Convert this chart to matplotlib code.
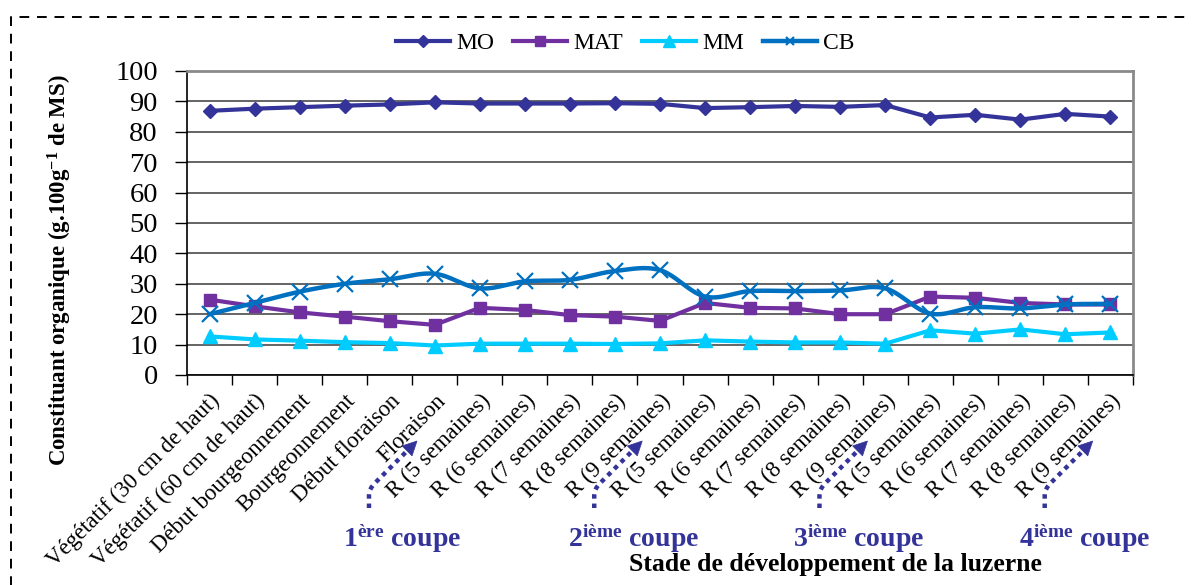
import numpy as np
import matplotlib
matplotlib.use("Agg")
import matplotlib.pyplot as plt
from matplotlib.lines import Line2D
from matplotlib.path import Path
from matplotlib.patches import PathPatch, Polygon

plt.rcParams['font.family'] = ['Liberation Serif', 'DejaVu Serif']
plt.rcParams['mathtext.fontset'] = 'custom'
plt.rcParams['mathtext.rm'] = 'Liberation Serif'
plt.rcParams['mathtext.bf'] = 'Liberation Serif:bold'
plt.rcParams['mathtext.it'] = 'Liberation Serif:italic'

# Development stages of lucerne (alfalfa)
stages = [
    "Végétatif (30 cm de haut)", "Végétatif (60 cm de haut)",
    "Début bourgeonnement", "Bourgeonnement", "Début floraison", "Floraison",
    "R (5 semaines)", "R (6 semaines)", "R (7 semaines)", "R (8 semaines)", "R (9 semaines)",
    "R (5 semaines)", "R (6 semaines)", "R (7 semaines)", "R (8 semaines)", "R (9 semaines)",
    "R (5 semaines)", "R (6 semaines)", "R (7 semaines)", "R (8 semaines)", "R (9 semaines)",
]

# Organic constituents (g.100 g-1 DM)
mo = [86.9, 87.6, 88.1, 88.6, 89.0, 89.7, 89.3, 89.3, 89.3, 89.4, 89.2,
      87.8, 88.1, 88.5, 88.2, 88.8, 84.7, 85.6, 84.0, 85.9, 85.0]
mat = [24.8, 22.6, 20.6, 19.2, 17.7, 16.5, 22.1, 21.4, 19.7, 19.2, 17.8,
       23.7, 22.1, 21.9, 20.0, 20.0, 25.8, 25.4, 23.7, 23.2, 23.2]
mm = [12.7, 11.7, 11.3, 10.8, 10.5, 9.7, 10.3, 10.3, 10.3, 10.2, 10.4,
      11.4, 11.0, 10.7, 10.7, 10.3, 14.7, 13.6, 15.0, 13.4, 14.0]
cb = [20.0, 23.7, 27.4, 30.0, 31.5, 33.3, 28.5, 30.8, 31.3, 34.2, 34.5,
      25.8, 27.6, 27.6, 27.8, 28.5, 20.2, 22.3, 21.9, 23.2, 23.4]

# Index of the last stage before each cut, and the cut names
cut_after = [5, 10, 15, 20]
cut_num = ["1", "2", "3", "4"]
cut_sup = ["ère", "ième", "ième", "ième"]

C_MO, C_MAT, C_MM, C_CB = "#333399", "#7030A0", "#00CCFF", "#0070C0"
BLUE_TXT = "#333399"


def smooth_curve(xs, ys, n=24):
    """Cardinal (Catmull-Rom style) Bezier smoothing through every point."""
    p = np.column_stack([xs, ys]).astype(float)
    p_ext = np.vstack([p[0], p, p[-1]])
    t = np.linspace(0, 1, n, endpoint=False)[:, None]
    segs = []
    for i in range(len(p) - 1):
        p0, p1, p2, p3 = p_ext[i], p_ext[i + 1], p_ext[i + 2], p_ext[i + 3]
        c1 = p1 + (p2 - p0) / 6.0
        c2 = p2 - (p3 - p1) / 6.0
        b = ((1 - t) ** 3) * p1 + 3 * ((1 - t) ** 2) * t * c1 + 3 * (1 - t) * t ** 2 * c2 + t ** 3 * p2
        segs.append(b)
    segs.append(p[-1][None, :])
    out = np.vstack(segs)
    return out[:, 0], out[:, 1]


W, H = 1192, 585
fig = plt.figure(figsize=(W / 100, H / 100), dpi=100)
ax = fig.add_axes([187 / W, (H - 375) / H, 946 / W, 304 / H])

x = np.arange(len(stages))

ax.plot(x, mo, color=C_MO, lw=3, marker="D", ms=7.5, mec=C_MO, mfc=C_MO, zorder=3, label="MO")
ax.plot(x, mat, color=C_MAT, lw=3, marker="s", ms=9, mec=C_MAT, mfc=C_MAT, zorder=4, label="MAT")
ax.plot(x, mm, color=C_MM, lw=3, marker="^", ms=10, mec=C_MM, mfc=C_MM, zorder=5, label="MM")
sx, sy = smooth_curve(x, cb)
ax.plot(sx, sy, color=C_CB, lw=3.2, zorder=6)
ax.plot(x, cb, ls="none", marker="x", ms=12, mew=1.6, color=C_CB, zorder=7)
cb_handle = Line2D([], [], color=C_CB, lw=3.2, marker="x", ms=7, mew=1.6)

ax.set_xlim(-0.5, len(stages) - 0.5)
ax.set_ylim(0, 100)
ax.set_yticks(np.arange(0, 101, 10))
ax.yaxis.grid(True, color="#3a3a3a", lw=1.1)
ax.set_axisbelow(True)

ax.set_xticks(x)
ax.set_xticklabels(stages, rotation=45, ha="right", va="top", rotation_mode="anchor", fontsize=16.5)
ax.set_xticks(np.arange(-0.5, len(stages), 1), minor=True)
ax.tick_params(axis="x", which="major", length=0, pad=11)
ax.tick_params(axis="x", which="minor", length=7, width=1, direction="out", color="black")
ax.tick_params(axis="y", labelsize=20.5, length=9, width=1, direction="out", pad=12)

for side in ("top", "right"):
    ax.spines[side].set_color("#8a8a8a")
    ax.spines[side].set_linewidth(2)
for side in ("left", "bottom"):
    ax.spines[side].set_color("black")
    ax.spines[side].set_linewidth(1.2)

handles = ax.get_legend_handles_labels()[0][:3] + [cb_handle]
fig.legend(handles, ["MO", "MAT", "MM", "CB"], loc="center", bbox_to_anchor=(625 / W, 1 - 43 / H),
           ncol=4, frameon=False, fontsize=17, handlelength=2.3, handletextpad=0.25,
           columnspacing=0.8, markerscale=0.85)

fig.text(60 / W, 1 - 270 / H, r"Constituant organique (g.100g$^{\mathbf{-1}}$ de MS)",
         rotation=90, ha="center", va="center", fontsize=16.5, fontweight="bold")
fig.text(835 / W, 1 - 571 / H, "Stade de développement de la luzerne",
         ha="center", va="baseline", fontsize=18.5, fontweight="bold")

# Cut annotations: dotted curved arrows and labels below the stage names
fig.canvas.draw()
to_disp = ax.transData
for k, idx in enumerate(cut_after):
    base_x = to_disp.transform((idx - 1.46, 0))[0]
    y0 = H - 508
    y1 = H - 495
    yc = H - 489
    tip = np.array([base_x + 48, H - 441])
    verts = [(base_x, y0), (base_x, y1), (base_x, yc), (base_x + 6, yc + 6), (tip[0] - 9, tip[1] - 9)]
    codes = [Path.MOVETO, Path.LINETO, Path.CURVE3, Path.CURVE3, Path.LINETO]
    fig.add_artist(PathPatch(Path(verts, codes), fill=False, edgecolor=BLUE_TXT, lw=3.2,
                             linestyle=(0, (1, 1.1)), transform=None, capstyle="butt"))
    d = np.array([1.0, 1.0]) / np.sqrt(2)
    nrm = np.array([-d[1], d[0]])
    base = tip - 14 * d
    head = [tip, base + 7 * nrm, base - 7 * nrm]
    fig.add_artist(Polygon(head, closed=True, facecolor=BLUE_TXT, edgecolor=BLUE_TXT,
                           lw=0.5, transform=None))
    fig.text((base_x - 26) / W, 1 - 547 / H,
             r"$\mathbf{%s^{%s}}$ coupe" % (cut_num[k], cut_sup[k]),
             ha="left", va="baseline", fontsize=20, fontweight="bold", color=BLUE_TXT)

# Dashed frame around the figure
fig.add_artist(Line2D([11 / W, 11 / W, 1.02], [-0.02, 1 - 17 / H, 1 - 17 / H],
                      transform=fig.transFigure, color="black", lw=1.4, ls=(0, (5, 4))))

fig.savefig("out.png", dpi=100)
